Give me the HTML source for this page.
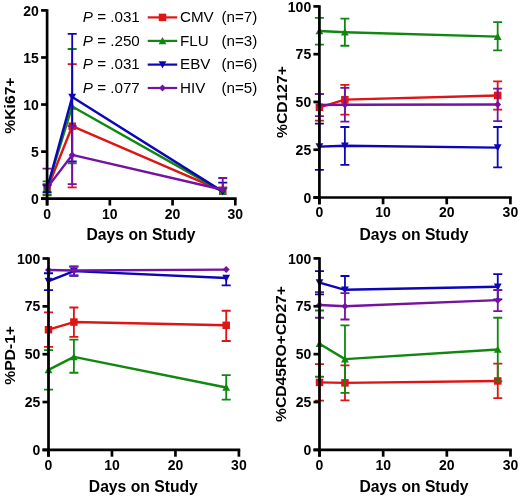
<!DOCTYPE html>
<html><head><meta charset="utf-8"><style>
html,body{margin:0;padding:0;background:#fff;}
body{width:520px;height:498px;overflow:hidden;}
svg{display:block;will-change:transform;filter:blur(0.3px);}
text{font-family:"Liberation Sans",sans-serif;}
.tl{font-size:14px;font-weight:bold;fill:#000;}
.ax{font-size:15.7px;font-weight:bold;fill:#000;}
.lg{font-size:15.2px;fill:#000;}
</style></head><body>
<svg width="520" height="498" viewBox="0 0 520 498">
<path d="M47.1 189.28V184.11M42.6 184.11H51.6" stroke="#e01414" stroke-width="1.8" fill="none"/>
<path d="M47.1 189.28V195.4M42.6 195.4H51.6" stroke="#e01414" stroke-width="1.8" fill="none"/>
<path d="M72.19 126.2V64.07M67.69 64.07H76.69" stroke="#e01414" stroke-width="1.8" fill="none"/>
<path d="M72.19 126.2V187.4M67.69 187.4H76.69" stroke="#e01414" stroke-width="1.8" fill="none"/>
<path d="M222.75 191.17V187.4M218.25 187.4H227.25" stroke="#e01414" stroke-width="1.8" fill="none"/>
<polyline points="47.1,189.28 72.19,126.2 222.75,191.17" stroke="#e01414" stroke-width="2.4" fill="none" stroke-linejoin="round"/>
<rect x="43.35" y="185.53" width="7.5" height="7.5" fill="#e01414"/>
<rect x="68.44" y="122.45" width="7.5" height="7.5" fill="#e01414"/>
<rect x="219" y="187.42" width="7.5" height="7.5" fill="#e01414"/>
<path d="M47.1 187.87V181.28M42.6 181.28H51.6" stroke="#108810" stroke-width="1.8" fill="none"/>
<path d="M47.1 187.87V194.46M42.6 194.46H51.6" stroke="#108810" stroke-width="1.8" fill="none"/>
<path d="M72.19 106.43V49M67.69 49H76.69" stroke="#108810" stroke-width="1.8" fill="none"/>
<path d="M72.19 106.43V163.39M67.69 163.39H76.69" stroke="#108810" stroke-width="1.8" fill="none"/>
<path d="M222.75 191.64V188.34M218.25 188.34H227.25" stroke="#108810" stroke-width="1.8" fill="none"/>
<polyline points="47.1,187.87 72.19,106.43 222.75,191.64" stroke="#108810" stroke-width="2.4" fill="none" stroke-linejoin="round"/>
<polygon points="47.1,183.97 51,191.19 43.2,191.19" fill="#108810"/>
<polygon points="72.19,102.53 76.09,109.75 68.29,109.75" fill="#108810"/>
<polygon points="222.75,187.74 226.65,194.95 218.85,194.95" fill="#108810"/>
<path d="M47.1 188.81V185.05M42.6 185.05H51.6" stroke="#0c06b8" stroke-width="1.8" fill="none"/>
<path d="M47.1 188.81V192.11M42.6 192.11H51.6" stroke="#0c06b8" stroke-width="1.8" fill="none"/>
<path d="M72.19 97.02V33.94M67.69 33.94H76.69" stroke="#0c06b8" stroke-width="1.8" fill="none"/>
<path d="M72.19 97.02V161.51M67.69 161.51H76.69" stroke="#0c06b8" stroke-width="1.8" fill="none"/>
<path d="M222.75 191.64V182.69M218.25 182.69H227.25" stroke="#0c06b8" stroke-width="1.8" fill="none"/>
<polyline points="47.1,188.81 72.19,97.02 222.75,191.64" stroke="#0c06b8" stroke-width="2.4" fill="none" stroke-linejoin="round"/>
<polygon points="47.1,192.71 51,185.5 43.2,185.5" fill="#0c06b8"/>
<polygon points="72.19,100.92 76.09,93.7 68.29,93.7" fill="#0c06b8"/>
<polygon points="222.75,195.54 226.65,188.32 218.85,188.32" fill="#0c06b8"/>
<path d="M47.1 187.87V168.57M42.6 168.57H51.6" stroke="#7412a2" stroke-width="1.8" fill="none"/>
<path d="M72.19 154.92V126.2M67.69 126.2H76.69" stroke="#7412a2" stroke-width="1.8" fill="none"/>
<path d="M72.19 154.92V184.11M67.69 184.11H76.69" stroke="#7412a2" stroke-width="1.8" fill="none"/>
<path d="M222.75 189.76V177.99M218.25 177.99H227.25" stroke="#7412a2" stroke-width="1.8" fill="none"/>
<polyline points="47.1,187.87 72.19,154.92 222.75,189.76" stroke="#7412a2" stroke-width="2.4" fill="none" stroke-linejoin="round"/>
<polygon points="47.1,184.37 50.6,187.87 47.1,191.37 43.6,187.87" fill="#7412a2"/>
<polygon points="72.19,151.42 75.69,154.92 72.19,158.42 68.69,154.92" fill="#7412a2"/>
<polygon points="222.75,186.26 226.25,189.76 222.75,193.26 219.25,189.76" fill="#7412a2"/>
<path d="M47.1 9.25V205.5" stroke="#000" stroke-width="2.7"/>
<path d="M41.1 198.7H236.65" stroke="#000" stroke-width="2.7"/>
<path d="M41.1 198.7H47.1" stroke="#000" stroke-width="2.7"/>
<text x="38.9" y="203.8" text-anchor="end" class="tl">0</text>
<path d="M41.1 151.62H47.1" stroke="#000" stroke-width="2.7"/>
<text x="38.9" y="156.72" text-anchor="end" class="tl">5</text>
<path d="M41.1 104.55H47.1" stroke="#000" stroke-width="2.7"/>
<text x="38.9" y="109.65" text-anchor="end" class="tl">10</text>
<path d="M41.1 57.48H47.1" stroke="#000" stroke-width="2.7"/>
<text x="38.9" y="62.58" text-anchor="end" class="tl">15</text>
<path d="M41.1 10.4H47.1" stroke="#000" stroke-width="2.7"/>
<text x="38.9" y="15.5" text-anchor="end" class="tl">20</text>
<path d="M47.1 198.7V205.5" stroke="#000" stroke-width="2.7"/>
<text x="47.1" y="218.5" text-anchor="middle" class="tl">0</text>
<path d="M109.83 198.7V205.5" stroke="#000" stroke-width="2.7"/>
<text x="109.83" y="218.5" text-anchor="middle" class="tl">10</text>
<path d="M172.57 198.7V205.5" stroke="#000" stroke-width="2.7"/>
<text x="172.57" y="218.5" text-anchor="middle" class="tl">20</text>
<path d="M235.3 198.7V205.5" stroke="#000" stroke-width="2.7"/>
<text x="235.3" y="218.5" text-anchor="middle" class="tl">30</text>
<text x="141" y="239.9" text-anchor="middle" class="ax">Days on Study</text>
<text transform="translate(14.9 105.6) rotate(-90) scale(1 0.9)" text-anchor="middle" class="ax">%Ki67+</text>
<path d="M319.4 107.3V94.11M314.9 94.11H323.9" stroke="#e01414" stroke-width="1.8" fill="none"/>
<path d="M319.4 107.3V120.68M314.9 120.68H323.9" stroke="#e01414" stroke-width="1.8" fill="none"/>
<path d="M344.87 99.66V84.94M340.37 84.94H349.37" stroke="#e01414" stroke-width="1.8" fill="none"/>
<path d="M344.87 99.66V114.56M340.37 114.56H349.37" stroke="#e01414" stroke-width="1.8" fill="none"/>
<path d="M497.67 95.45V81.31M493.17 81.31H502.17" stroke="#e01414" stroke-width="1.8" fill="none"/>
<path d="M497.67 95.45V109.59M493.17 109.59H502.17" stroke="#e01414" stroke-width="1.8" fill="none"/>
<polyline points="319.4,107.3 344.87,99.66 497.67,95.45" stroke="#e01414" stroke-width="2.4" fill="none" stroke-linejoin="round"/>
<rect x="315.65" y="103.55" width="7.5" height="7.5" fill="#e01414"/>
<rect x="341.12" y="95.91" width="7.5" height="7.5" fill="#e01414"/>
<rect x="493.92" y="91.7" width="7.5" height="7.5" fill="#e01414"/>
<path d="M319.4 31.05V17.87M314.9 17.87H323.9" stroke="#108810" stroke-width="1.8" fill="none"/>
<path d="M319.4 31.05V44.62M314.9 44.62H323.9" stroke="#108810" stroke-width="1.8" fill="none"/>
<path d="M344.87 32.2V18.63M340.37 18.63H349.37" stroke="#108810" stroke-width="1.8" fill="none"/>
<path d="M344.87 32.2V45.77M340.37 45.77H349.37" stroke="#108810" stroke-width="1.8" fill="none"/>
<path d="M497.67 36.59V22.07M493.17 22.07H502.17" stroke="#108810" stroke-width="1.8" fill="none"/>
<path d="M497.67 36.59V50.35M493.17 50.35H502.17" stroke="#108810" stroke-width="1.8" fill="none"/>
<polyline points="319.4,31.05 344.87,32.2 497.67,36.59" stroke="#108810" stroke-width="2.4" fill="none" stroke-linejoin="round"/>
<polygon points="319.4,27.15 323.3,34.37 315.5,34.37" fill="#108810"/>
<polygon points="344.87,28.3 348.77,35.51 340.97,35.51" fill="#108810"/>
<polygon points="497.67,32.69 501.57,39.91 493.77,39.91" fill="#108810"/>
<path d="M319.4 146.67V123.54M314.9 123.54H323.9" stroke="#0c06b8" stroke-width="1.8" fill="none"/>
<path d="M319.4 146.67V169.79M314.9 169.79H323.9" stroke="#0c06b8" stroke-width="1.8" fill="none"/>
<path d="M344.87 145.71V126.98M340.37 126.98H349.37" stroke="#0c06b8" stroke-width="1.8" fill="none"/>
<path d="M344.87 145.71V164.82M340.37 164.82H349.37" stroke="#0c06b8" stroke-width="1.8" fill="none"/>
<path d="M497.67 147.62V126.98M493.17 126.98H502.17" stroke="#0c06b8" stroke-width="1.8" fill="none"/>
<path d="M497.67 147.62V167.31M493.17 167.31H502.17" stroke="#0c06b8" stroke-width="1.8" fill="none"/>
<polyline points="319.4,146.67 344.87,145.71 497.67,147.62" stroke="#0c06b8" stroke-width="2.4" fill="none" stroke-linejoin="round"/>
<polygon points="319.4,150.57 323.3,143.35 315.5,143.35" fill="#0c06b8"/>
<polygon points="344.87,149.61 348.77,142.4 340.97,142.4" fill="#0c06b8"/>
<polygon points="497.67,151.52 501.57,144.31 493.77,144.31" fill="#0c06b8"/>
<path d="M319.4 105.01V94.11M314.9 94.11H323.9" stroke="#7412a2" stroke-width="1.8" fill="none"/>
<path d="M319.4 105.01V116.09M314.9 116.09H323.9" stroke="#7412a2" stroke-width="1.8" fill="none"/>
<path d="M344.87 104.72V87.81M340.37 87.81H349.37" stroke="#7412a2" stroke-width="1.8" fill="none"/>
<path d="M344.87 104.72V121.63M340.37 121.63H349.37" stroke="#7412a2" stroke-width="1.8" fill="none"/>
<path d="M497.67 104.43V88.57M493.17 88.57H502.17" stroke="#7412a2" stroke-width="1.8" fill="none"/>
<path d="M497.67 104.43V121.06M493.17 121.06H502.17" stroke="#7412a2" stroke-width="1.8" fill="none"/>
<polyline points="319.4,105.01 344.87,104.72 497.67,104.43" stroke="#7412a2" stroke-width="2.4" fill="none" stroke-linejoin="round"/>
<polygon points="319.4,101.51 322.9,105.01 319.4,108.51 315.9,105.01" fill="#7412a2"/>
<polygon points="344.87,101.22 348.37,104.72 344.87,108.22 341.37,104.72" fill="#7412a2"/>
<polygon points="497.67,100.93 501.17,104.43 497.67,107.93 494.17,104.43" fill="#7412a2"/>
<path d="M319.4 5.25V204.3" stroke="#000" stroke-width="2.7"/>
<path d="M313.4 197.5H511.75" stroke="#000" stroke-width="2.7"/>
<path d="M313.4 197.5H319.4" stroke="#000" stroke-width="2.7"/>
<text x="311.2" y="202.6" text-anchor="end" class="tl">0</text>
<path d="M313.4 149.72H319.4" stroke="#000" stroke-width="2.7"/>
<text x="311.2" y="154.82" text-anchor="end" class="tl">25</text>
<path d="M313.4 101.95H319.4" stroke="#000" stroke-width="2.7"/>
<text x="311.2" y="107.05" text-anchor="end" class="tl">50</text>
<path d="M313.4 54.18H319.4" stroke="#000" stroke-width="2.7"/>
<text x="311.2" y="59.28" text-anchor="end" class="tl">75</text>
<path d="M313.4 6.4H319.4" stroke="#000" stroke-width="2.7"/>
<text x="311.2" y="11.5" text-anchor="end" class="tl">100</text>
<path d="M319.4 197.5V204.3" stroke="#000" stroke-width="2.7"/>
<text x="319.4" y="217.3" text-anchor="middle" class="tl">0</text>
<path d="M383.07 197.5V204.3" stroke="#000" stroke-width="2.7"/>
<text x="383.07" y="217.3" text-anchor="middle" class="tl">10</text>
<path d="M446.73 197.5V204.3" stroke="#000" stroke-width="2.7"/>
<text x="446.73" y="217.3" text-anchor="middle" class="tl">20</text>
<path d="M510.4 197.5V204.3" stroke="#000" stroke-width="2.7"/>
<text x="510.4" y="217.3" text-anchor="middle" class="tl">30</text>
<text x="414" y="240.2" text-anchor="middle" class="ax">Days on Study</text>
<text transform="translate(287 102) rotate(-90) scale(1 0.9)" text-anchor="middle" class="ax">%CD127+</text>
<path d="M48.5 329.7V312.47M44 312.47H53" stroke="#e01414" stroke-width="1.8" fill="none"/>
<path d="M48.5 329.7V346.93M44 346.93H53" stroke="#e01414" stroke-width="1.8" fill="none"/>
<path d="M73.89 322.04V307.5M69.39 307.5H78.39" stroke="#e01414" stroke-width="1.8" fill="none"/>
<path d="M73.89 322.04V336.78M69.39 336.78H78.39" stroke="#e01414" stroke-width="1.8" fill="none"/>
<path d="M226.21 325.3V310.75M221.71 310.75H230.71" stroke="#e01414" stroke-width="1.8" fill="none"/>
<path d="M226.21 325.3V340.99M221.71 340.99H230.71" stroke="#e01414" stroke-width="1.8" fill="none"/>
<polyline points="48.5,329.7 73.89,322.04 226.21,325.3" stroke="#e01414" stroke-width="2.4" fill="none" stroke-linejoin="round"/>
<rect x="44.75" y="325.95" width="7.5" height="7.5" fill="#e01414"/>
<rect x="70.14" y="318.29" width="7.5" height="7.5" fill="#e01414"/>
<rect x="222.46" y="321.55" width="7.5" height="7.5" fill="#e01414"/>
<path d="M48.5 369.89V350.18M44 350.18H53" stroke="#108810" stroke-width="1.8" fill="none"/>
<path d="M48.5 369.89V389.61M44 389.61H53" stroke="#108810" stroke-width="1.8" fill="none"/>
<path d="M73.89 356.88V339.65M69.39 339.65H78.39" stroke="#108810" stroke-width="1.8" fill="none"/>
<path d="M73.89 356.88V372.77M69.39 372.77H78.39" stroke="#108810" stroke-width="1.8" fill="none"/>
<path d="M226.21 387.5V375.06M221.71 375.06H230.71" stroke="#108810" stroke-width="1.8" fill="none"/>
<path d="M226.21 387.5V399.56M221.71 399.56H230.71" stroke="#108810" stroke-width="1.8" fill="none"/>
<polyline points="48.5,369.89 73.89,356.88 226.21,387.5" stroke="#108810" stroke-width="2.4" fill="none" stroke-linejoin="round"/>
<polygon points="48.5,365.99 52.4,373.21 44.6,373.21" fill="#108810"/>
<polygon points="73.89,352.98 77.79,360.19 69.99,360.19" fill="#108810"/>
<polygon points="226.21,383.6 230.11,390.82 222.31,390.82" fill="#108810"/>
<path d="M48.5 281.09V273.24M44 273.24H53" stroke="#0c06b8" stroke-width="1.8" fill="none"/>
<path d="M48.5 281.09V290.08M44 290.08H53" stroke="#0c06b8" stroke-width="1.8" fill="none"/>
<path d="M73.89 271.13V266.54M69.39 266.54H78.39" stroke="#0c06b8" stroke-width="1.8" fill="none"/>
<path d="M73.89 271.13V275.73M69.39 275.73H78.39" stroke="#0c06b8" stroke-width="1.8" fill="none"/>
<path d="M226.21 278.02V285.3M221.71 285.3H230.71" stroke="#0c06b8" stroke-width="1.8" fill="none"/>
<polyline points="48.5,281.09 73.89,271.13 226.21,278.02" stroke="#0c06b8" stroke-width="2.4" fill="none" stroke-linejoin="round"/>
<polygon points="48.5,284.99 52.4,277.77 44.6,277.77" fill="#0c06b8"/>
<polygon points="73.89,275.03 77.79,267.82 69.99,267.82" fill="#0c06b8"/>
<polygon points="226.21,281.92 230.11,274.71 222.31,274.71" fill="#0c06b8"/>
<path d="M73.89 270.56V266.35M69.39 266.35H78.39" stroke="#7412a2" stroke-width="1.8" fill="none"/>
<path d="M73.89 270.56V275.34M69.39 275.34H78.39" stroke="#7412a2" stroke-width="1.8" fill="none"/>
<polyline points="48.5,269.98 73.89,270.56 226.21,269.6" stroke="#7412a2" stroke-width="2.4" fill="none" stroke-linejoin="round"/>
<polygon points="48.5,266.48 52,269.98 48.5,273.48 45,269.98" fill="#7412a2"/>
<polygon points="73.89,267.06 77.39,270.56 73.89,274.06 70.39,270.56" fill="#7412a2"/>
<polygon points="226.21,266.1 229.71,269.6 226.21,273.1 222.71,269.6" fill="#7412a2"/>
<path d="M48.5 257.35V456.7" stroke="#000" stroke-width="2.7"/>
<path d="M42.5 449.9H240.25" stroke="#000" stroke-width="2.7"/>
<path d="M42.5 449.9H48.5" stroke="#000" stroke-width="2.7"/>
<text x="40.3" y="455" text-anchor="end" class="tl">0</text>
<path d="M42.5 402.05H48.5" stroke="#000" stroke-width="2.7"/>
<text x="40.3" y="407.15" text-anchor="end" class="tl">25</text>
<path d="M42.5 354.2H48.5" stroke="#000" stroke-width="2.7"/>
<text x="40.3" y="359.3" text-anchor="end" class="tl">50</text>
<path d="M42.5 306.35H48.5" stroke="#000" stroke-width="2.7"/>
<text x="40.3" y="311.45" text-anchor="end" class="tl">75</text>
<path d="M42.5 258.5H48.5" stroke="#000" stroke-width="2.7"/>
<text x="40.3" y="263.6" text-anchor="end" class="tl">100</text>
<path d="M48.5 449.9V456.7" stroke="#000" stroke-width="2.7"/>
<text x="48.5" y="469.7" text-anchor="middle" class="tl">0</text>
<path d="M111.97 449.9V456.7" stroke="#000" stroke-width="2.7"/>
<text x="111.97" y="469.7" text-anchor="middle" class="tl">10</text>
<path d="M175.43 449.9V456.7" stroke="#000" stroke-width="2.7"/>
<text x="175.43" y="469.7" text-anchor="middle" class="tl">20</text>
<path d="M238.9 449.9V456.7" stroke="#000" stroke-width="2.7"/>
<text x="238.9" y="469.7" text-anchor="middle" class="tl">30</text>
<text x="143.3" y="491.5" text-anchor="middle" class="ax">Days on Study</text>
<text transform="translate(14.6 355.4) rotate(-90) scale(1 0.9)" text-anchor="middle" class="ax">%PD-1+</text>
<path d="M319.5 382.4V364.2M315 364.2H324" stroke="#e01414" stroke-width="1.8" fill="none"/>
<path d="M319.5 382.4V400.59M315 400.59H324" stroke="#e01414" stroke-width="1.8" fill="none"/>
<path d="M344.97 382.88V365.45M340.47 365.45H349.47" stroke="#e01414" stroke-width="1.8" fill="none"/>
<path d="M344.97 382.88V400.3M340.47 400.3H349.47" stroke="#e01414" stroke-width="1.8" fill="none"/>
<path d="M497.77 380.96V363.72M493.27 363.72H502.27" stroke="#e01414" stroke-width="1.8" fill="none"/>
<path d="M497.77 380.96V398.19M493.27 398.19H502.27" stroke="#e01414" stroke-width="1.8" fill="none"/>
<polyline points="319.5,382.4 344.97,382.88 497.77,380.96" stroke="#e01414" stroke-width="2.4" fill="none" stroke-linejoin="round"/>
<rect x="315.75" y="378.65" width="7.5" height="7.5" fill="#e01414"/>
<rect x="341.22" y="379.12" width="7.5" height="7.5" fill="#e01414"/>
<rect x="494.02" y="377.21" width="7.5" height="7.5" fill="#e01414"/>
<path d="M319.5 343.81V310.49M315 310.49H324" stroke="#108810" stroke-width="1.8" fill="none"/>
<path d="M319.5 343.81V376.75M315 376.75H324" stroke="#108810" stroke-width="1.8" fill="none"/>
<path d="M344.97 359.13V325.42M340.47 325.42H349.47" stroke="#108810" stroke-width="1.8" fill="none"/>
<path d="M344.97 359.13V392.83M340.47 392.83H349.47" stroke="#108810" stroke-width="1.8" fill="none"/>
<path d="M497.77 349.55V317.76M493.27 317.76H502.27" stroke="#108810" stroke-width="1.8" fill="none"/>
<path d="M497.77 349.55V381.34M493.27 381.34H502.27" stroke="#108810" stroke-width="1.8" fill="none"/>
<polyline points="319.5,343.81 344.97,359.13 497.77,349.55" stroke="#108810" stroke-width="2.4" fill="none" stroke-linejoin="round"/>
<polygon points="319.5,339.91 323.4,347.12 315.6,347.12" fill="#108810"/>
<polygon points="344.97,355.23 348.87,362.44 341.07,362.44" fill="#108810"/>
<polygon points="497.77,345.65 501.67,352.87 493.87,352.87" fill="#108810"/>
<path d="M319.5 282.53V271.04M315 271.04H324" stroke="#0c06b8" stroke-width="1.8" fill="none"/>
<path d="M319.5 282.53V294.4M315 294.4H324" stroke="#0c06b8" stroke-width="1.8" fill="none"/>
<path d="M344.97 289.81V276.02M340.47 276.02H349.47" stroke="#0c06b8" stroke-width="1.8" fill="none"/>
<path d="M497.77 286.74V274.1M493.27 274.1H502.27" stroke="#0c06b8" stroke-width="1.8" fill="none"/>
<path d="M497.77 286.74V299.38M493.27 299.38H502.27" stroke="#0c06b8" stroke-width="1.8" fill="none"/>
<polyline points="319.5,282.53 344.97,289.81 497.77,286.74" stroke="#0c06b8" stroke-width="2.4" fill="none" stroke-linejoin="round"/>
<polygon points="319.5,286.43 323.4,279.21 315.6,279.21" fill="#0c06b8"/>
<polygon points="344.97,293.71 348.87,286.49 341.07,286.49" fill="#0c06b8"/>
<polygon points="497.77,290.64 501.67,283.43 493.87,283.43" fill="#0c06b8"/>
<path d="M319.5 304.93V292.1M315 292.1H324" stroke="#7412a2" stroke-width="1.8" fill="none"/>
<path d="M319.5 304.93V317.76M315 317.76H324" stroke="#7412a2" stroke-width="1.8" fill="none"/>
<path d="M344.97 306.27V293.06M340.47 293.06H349.47" stroke="#7412a2" stroke-width="1.8" fill="none"/>
<path d="M344.97 306.27V319.49M340.47 319.49H349.47" stroke="#7412a2" stroke-width="1.8" fill="none"/>
<path d="M497.77 300.15V290M493.27 290H502.27" stroke="#7412a2" stroke-width="1.8" fill="none"/>
<path d="M497.77 300.15V311.06M493.27 311.06H502.27" stroke="#7412a2" stroke-width="1.8" fill="none"/>
<polyline points="319.5,304.93 344.97,306.27 497.77,300.15" stroke="#7412a2" stroke-width="2.4" fill="none" stroke-linejoin="round"/>
<polygon points="319.5,301.43 323,304.93 319.5,308.43 316,304.93" fill="#7412a2"/>
<polygon points="344.97,302.77 348.47,306.27 344.97,309.77 341.47,306.27" fill="#7412a2"/>
<polygon points="497.77,296.65 501.27,300.15 497.77,303.65 494.27,300.15" fill="#7412a2"/>
<path d="M319.5 257.25V456.7" stroke="#000" stroke-width="2.7"/>
<path d="M313.5 449.9H511.85" stroke="#000" stroke-width="2.7"/>
<path d="M313.5 449.9H319.5" stroke="#000" stroke-width="2.7"/>
<text x="311.3" y="455" text-anchor="end" class="tl">0</text>
<path d="M313.5 402.02H319.5" stroke="#000" stroke-width="2.7"/>
<text x="311.3" y="407.12" text-anchor="end" class="tl">25</text>
<path d="M313.5 354.15H319.5" stroke="#000" stroke-width="2.7"/>
<text x="311.3" y="359.25" text-anchor="end" class="tl">50</text>
<path d="M313.5 306.27H319.5" stroke="#000" stroke-width="2.7"/>
<text x="311.3" y="311.38" text-anchor="end" class="tl">75</text>
<path d="M313.5 258.4H319.5" stroke="#000" stroke-width="2.7"/>
<text x="311.3" y="263.5" text-anchor="end" class="tl">100</text>
<path d="M319.5 449.9V456.7" stroke="#000" stroke-width="2.7"/>
<text x="319.5" y="469.7" text-anchor="middle" class="tl">0</text>
<path d="M383.17 449.9V456.7" stroke="#000" stroke-width="2.7"/>
<text x="383.17" y="469.7" text-anchor="middle" class="tl">10</text>
<path d="M446.83 449.9V456.7" stroke="#000" stroke-width="2.7"/>
<text x="446.83" y="469.7" text-anchor="middle" class="tl">20</text>
<path d="M510.5 449.9V456.7" stroke="#000" stroke-width="2.7"/>
<text x="510.5" y="469.7" text-anchor="middle" class="tl">30</text>
<text x="414" y="491.5" text-anchor="middle" class="ax">Days on Study</text>
<text transform="translate(286.4 354) rotate(-90) scale(1 0.9)" text-anchor="middle" class="ax">%CD45RO+CD27+</text>
<text x="82.8" y="22" class="lg"><tspan font-style="italic">P</tspan> = .031</text>
<path d="M147.7 17.4H177.2" stroke="#e01414" stroke-width="2.2"/>
<rect x="158.75" y="13.65" width="7.5" height="7.5" fill="#e01414"/>
<text x="180" y="22" class="lg">CMV</text>
<text x="221.5" y="22" class="lg">(n=7)</text>
<text x="82.8" y="45.5" class="lg"><tspan font-style="italic">P</tspan> = .250</text>
<path d="M147.7 40.9H177.2" stroke="#108810" stroke-width="2.2"/>
<polygon points="162.5,37 166.4,44.21 158.6,44.21" fill="#108810"/>
<text x="180" y="45.5" class="lg">FLU</text>
<text x="221.5" y="45.5" class="lg">(n=3)</text>
<text x="82.8" y="69.2" class="lg"><tspan font-style="italic">P</tspan> = .031</text>
<path d="M147.7 64.6H177.2" stroke="#0c06b8" stroke-width="2.2"/>
<polygon points="162.5,68.5 166.4,61.28 158.6,61.28" fill="#0c06b8"/>
<text x="180" y="69.2" class="lg">EBV</text>
<text x="221.5" y="69.2" class="lg">(n=6)</text>
<text x="82.8" y="92.6" class="lg"><tspan font-style="italic">P</tspan> = .077</text>
<path d="M147.7 88H177.2" stroke="#7412a2" stroke-width="2.2"/>
<polygon points="162.5,84.5 166,88 162.5,91.5 159,88" fill="#7412a2"/>
<text x="180" y="92.6" class="lg">HIV</text>
<text x="221.5" y="92.6" class="lg">(n=5)</text>
</svg>
</body></html>
